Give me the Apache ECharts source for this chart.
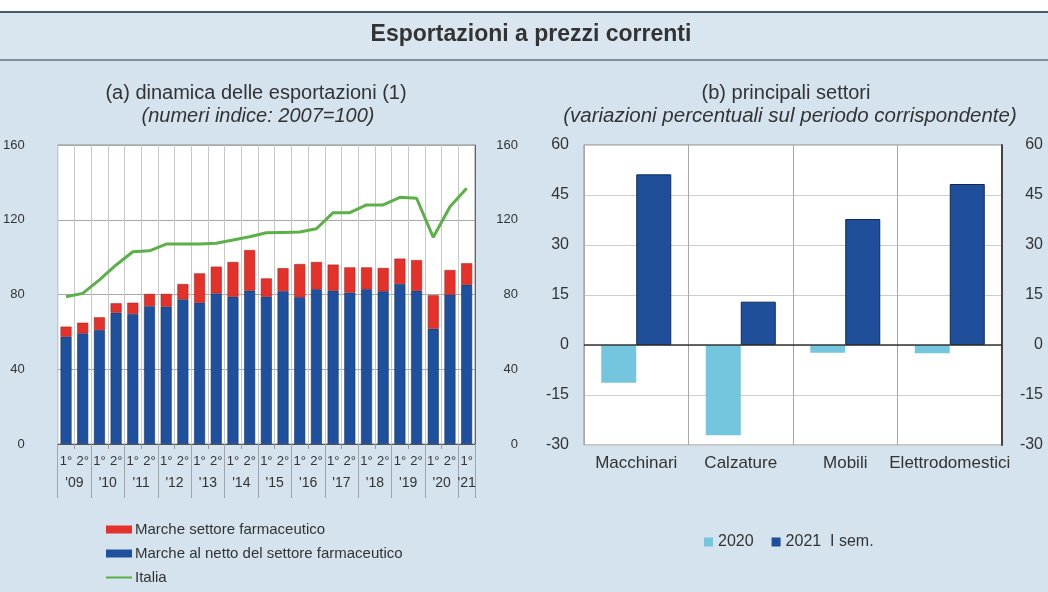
<!DOCTYPE html>
<html>
<head>
<meta charset="utf-8">
<script src="https://cdn.jsdelivr.net/npm/echarts@6/dist/echarts.min.js"></script>
<style>
html,body{margin:0;padding:0;background:#ffffff;}
#c{width:1048px;height:592px;}
</style>
</head>
<body>
<div id="c"></div>
<script>
// ---- DATA ----
const semesters = ['1°','2°','1°','2°','1°','2°','1°','2°','1°','2°','1°','2°','1°','2°','1°','2°','1°','2°','1°','2°','1°','2°','1°','2°','1°'];
const years = ["'09","'10","'11","'12","'13","'14","'15","'16","'17","'18","'19","'20","'21"];
const semestersPerYear = [2,2,2,2,2,2,2,2,2,2,2,2,1];
const marcheNetto = [57.4,59.2,61.0,70.3,69.6,73.8,73.5,77.4,75.6,80.6,78.8,82.0,78.8,81.8,78.5,82.8,82.0,81.0,82.8,81.7,85.6,82.0,61.7,79.9,85.2];
const marcheFarma = [5.4,5.7,6.8,5.0,6.0,6.5,6.8,8.2,15.7,14.3,18.6,21.8,9.8,12.3,17.8,14.6,14.0,13.5,11.7,12.5,13.6,16.4,17.9,13.2,11.5];
const italia = [78.8,80.6,87.8,95.8,102.9,103.4,107.0,107.0,107.0,107.4,109.2,110.9,113.0,113.2,113.4,115.2,123.8,123.8,127.9,127.9,132.0,131.5,110.6,127.0,136.8];
const settori = ['Macchinari','Calzature','Mobili','Elettrodomestici'];
const var2020 = [-11.3,-27.1,-2.3,-2.5];
const var2021 = [51.2,13.0,37.8,48.3];
const leftAxis = {min:0, max:160, interval:40};
const rightAxis = {min:-30, max:60, interval:15};

// derived year axis (half-bar resolution)
const yearAxisData = new Array(semesters.length*2+1).fill('');
const yearBounds = new Set([0]);
let pos = 0;
years.forEach((y,k)=>{
  const n = semestersPerYear[k];
  yearAxisData[pos*2+n] = y;
  pos += n;
  yearBounds.add(pos*2);
});

const FONT = 'Liberation Sans, Arial, Helvetica, sans-serif';
const TXT = '#333333';
const LINE_ICON = 'path://M0,3.1h26v1.8h-26z M0,0h0.01v0.01h-0.01z M25.99,7.99h0.01v0.01h-0.01z';

const chart = echarts.init(document.getElementById('c'));
chart.setOption({
  backgroundColor:'#d4e3ed',
  textStyle:{fontFamily:FONT, color:TXT},
  animation:false,
  graphic:[
    {type:'rect', shape:{x:0,y:0,width:1048,height:12}, style:{fill:'#ffffff'}, silent:true},
    {type:'rect', shape:{x:0,y:12,width:1048,height:48}, style:{fill:'#d9e6ef'}, silent:true},
    {type:'line', shape:{x1:0,y1:12,x2:1048,y2:12}, style:{stroke:'#3f5b68', lineWidth:2}, silent:true},
    {type:'line', shape:{x1:0,y1:60,x2:1048,y2:60}, style:{stroke:'#7f909b', lineWidth:2}, silent:true},
    {type:'text', x:531, y:35, style:{text:'Esportazioni a prezzi correnti', font:'bold 23px '+FONT, fill:TXT, align:'center', verticalAlign:'middle'}, silent:true},
    {type:'text', x:256, y:93, style:{text:'(a) dinamica delle esportazioni (1)', font:'20px '+FONT, fill:TXT, align:'center', verticalAlign:'middle'}, silent:true},
    {type:'text', x:258, y:116, style:{text:'(numeri indice: 2007=100)', font:'italic 20px '+FONT, fill:TXT, align:'center', verticalAlign:'middle'}, silent:true},
    {type:'text', x:786, y:93, style:{text:'(b) principali settori', font:'20px '+FONT, fill:TXT, align:'center', verticalAlign:'middle'}, silent:true},
    {type:'text', x:790, y:116, style:{text:'(variazioni percentuali sul periodo corrispondente)', font:'italic 20.5px '+FONT, fill:TXT, align:'center', verticalAlign:'middle'}, silent:true}
  ],
  legend:[
    {
      data:[{name:'Marche settore farmaceutico', icon:'rect'},{name:'Marche al netto del settore farmaceutico', icon:'rect'},{name:'Italia', icon:LINE_ICON}],
      orient:'vertical', left:101, top:517, itemWidth:26, itemHeight:8, itemGap:9,
      itemStyle:{borderWidth:0},
      selectedMode:false, textStyle:{fontSize:15, color:TXT, fontFamily:FONT, padding:[0,0,0,-2]}
    },
    {
      data:[{name:'2020', icon:'rect'},{name:'2021  I sem.', icon:'rect'}],
      left:699, top:529, itemWidth:9, itemHeight:9, itemGap:18,
      itemStyle:{borderWidth:0},
      selectedMode:false, textStyle:{fontSize:16, color:TXT, fontFamily:FONT}
    }
  ],
  grid:[
    {left:54, top:145, width:421, height:299, show:true, backgroundColor:'#ffffff', borderColor:'#8c8c8c', borderWidth:1, containLabel:false},
    {left:584, top:145, width:418, height:300, show:true, backgroundColor:'#ffffff', borderColor:'#8c8c8c', borderWidth:1, containLabel:false}
  ],
  xAxis:[
    {type:'category', gridIndex:0, data:semesters, position:'bottom',
     axisLine:{show:true, lineStyle:{color:'#555'}},
     axisTick:{show:true, length:5, interval:0, lineStyle:{color:'#999'}},
     axisLabel:{interval:0, margin:11, fontSize:13, color:TXT},
     splitLine:{show:true, interval:0, lineStyle:{color:'#c8c8c8', width:1}}},
    {type:'category', gridIndex:0, data:yearAxisData, position:'bottom', offset:0, boundaryGap:false,
     axisLine:{show:false},
     axisTick:{show:true, length:54, interval:(i)=>yearBounds.has(i), lineStyle:{color:'#9aa5ad'}},
     axisLabel:{interval:0, margin:32, fontSize:14, color:TXT},
     splitLine:{show:false}},
    {type:'category', gridIndex:1, data:settori, position:'bottom',
     axisLine:{show:false, onZero:false},
     axisTick:{show:false},
     axisLabel:{interval:0, margin:10, fontSize:17, color:TXT},
     splitLine:{show:true, interval:0, lineStyle:{color:'#a8a8a8', width:1}}}
  ],
  yAxis:[
    {type:'value', gridIndex:0, position:'left', min:leftAxis.min, max:leftAxis.max, interval:leftAxis.interval,
     axisLine:{show:false}, axisTick:{show:false},
     axisLabel:{margin:33, fontSize:13, color:TXT},
     splitLine:{show:true, lineStyle:{color:'#a9a9a9'}}},
    {type:'value', gridIndex:0, position:'right', min:leftAxis.min, max:leftAxis.max, interval:leftAxis.interval,
     axisLine:{show:true, lineStyle:{color:'#666'}}, axisTick:{show:false},
     axisLabel:{margin:43, align:'right', fontSize:13, color:TXT},
     splitLine:{show:false}},
    {type:'value', gridIndex:1, position:'left', min:rightAxis.min, max:rightAxis.max, interval:rightAxis.interval,
     axisLine:{show:false}, axisTick:{show:false},
     axisLabel:{margin:15, fontSize:16, color:TXT},
     splitLine:{show:true, lineStyle:{color:'#cdcdcd'}}},
    {type:'value', gridIndex:1, position:'right', min:rightAxis.min, max:rightAxis.max, interval:rightAxis.interval,
     axisLine:{show:true, lineStyle:{color:'#444', width:2}}, axisTick:{show:false},
     axisLabel:{margin:41, align:'right', fontSize:16, color:TXT},
     splitLine:{show:false}}
  ],
  series:[
    {name:'Marche al netto del settore farmaceutico', type:'bar', stack:'m', xAxisIndex:0, yAxisIndex:0,
     data:marcheNetto, barWidth:11,
     itemStyle:{color:'#1f509e', borderColor:'#17396e', borderWidth:0.6}},
    {name:'Marche settore farmaceutico', type:'bar', stack:'m', xAxisIndex:0, yAxisIndex:0,
     data:marcheFarma, barWidth:11,
     itemStyle:{color:'#e4322b', borderColor:'#a9231e', borderWidth:0.6}},
    {name:'Italia', type:'line', xAxisIndex:0, yAxisIndex:0, data:italia, symbol:'none',
     lineStyle:{color:'#5cb04a', width:3}, itemStyle:{color:'#5cb04a'}, z:5},
    {name:'2020', type:'bar', xAxisIndex:2, yAxisIndex:2, data:var2020, barWidth:35, barGap:'0%',
     itemStyle:{color:'#74c5de'},
     markLine:{silent:true, symbol:'none', label:{show:false}, lineStyle:{color:'#333', width:1.5, type:'solid'}, data:[{yAxis:0}]}},
    {name:'2021  I sem.', type:'bar', xAxisIndex:2, yAxisIndex:2, data:var2021, barWidth:35, barGap:'0%',
     itemStyle:{color:'#1f4e9a', borderColor:'#0e2a5c', borderWidth:1}}
  ]
});
</script>
</body>
</html>
